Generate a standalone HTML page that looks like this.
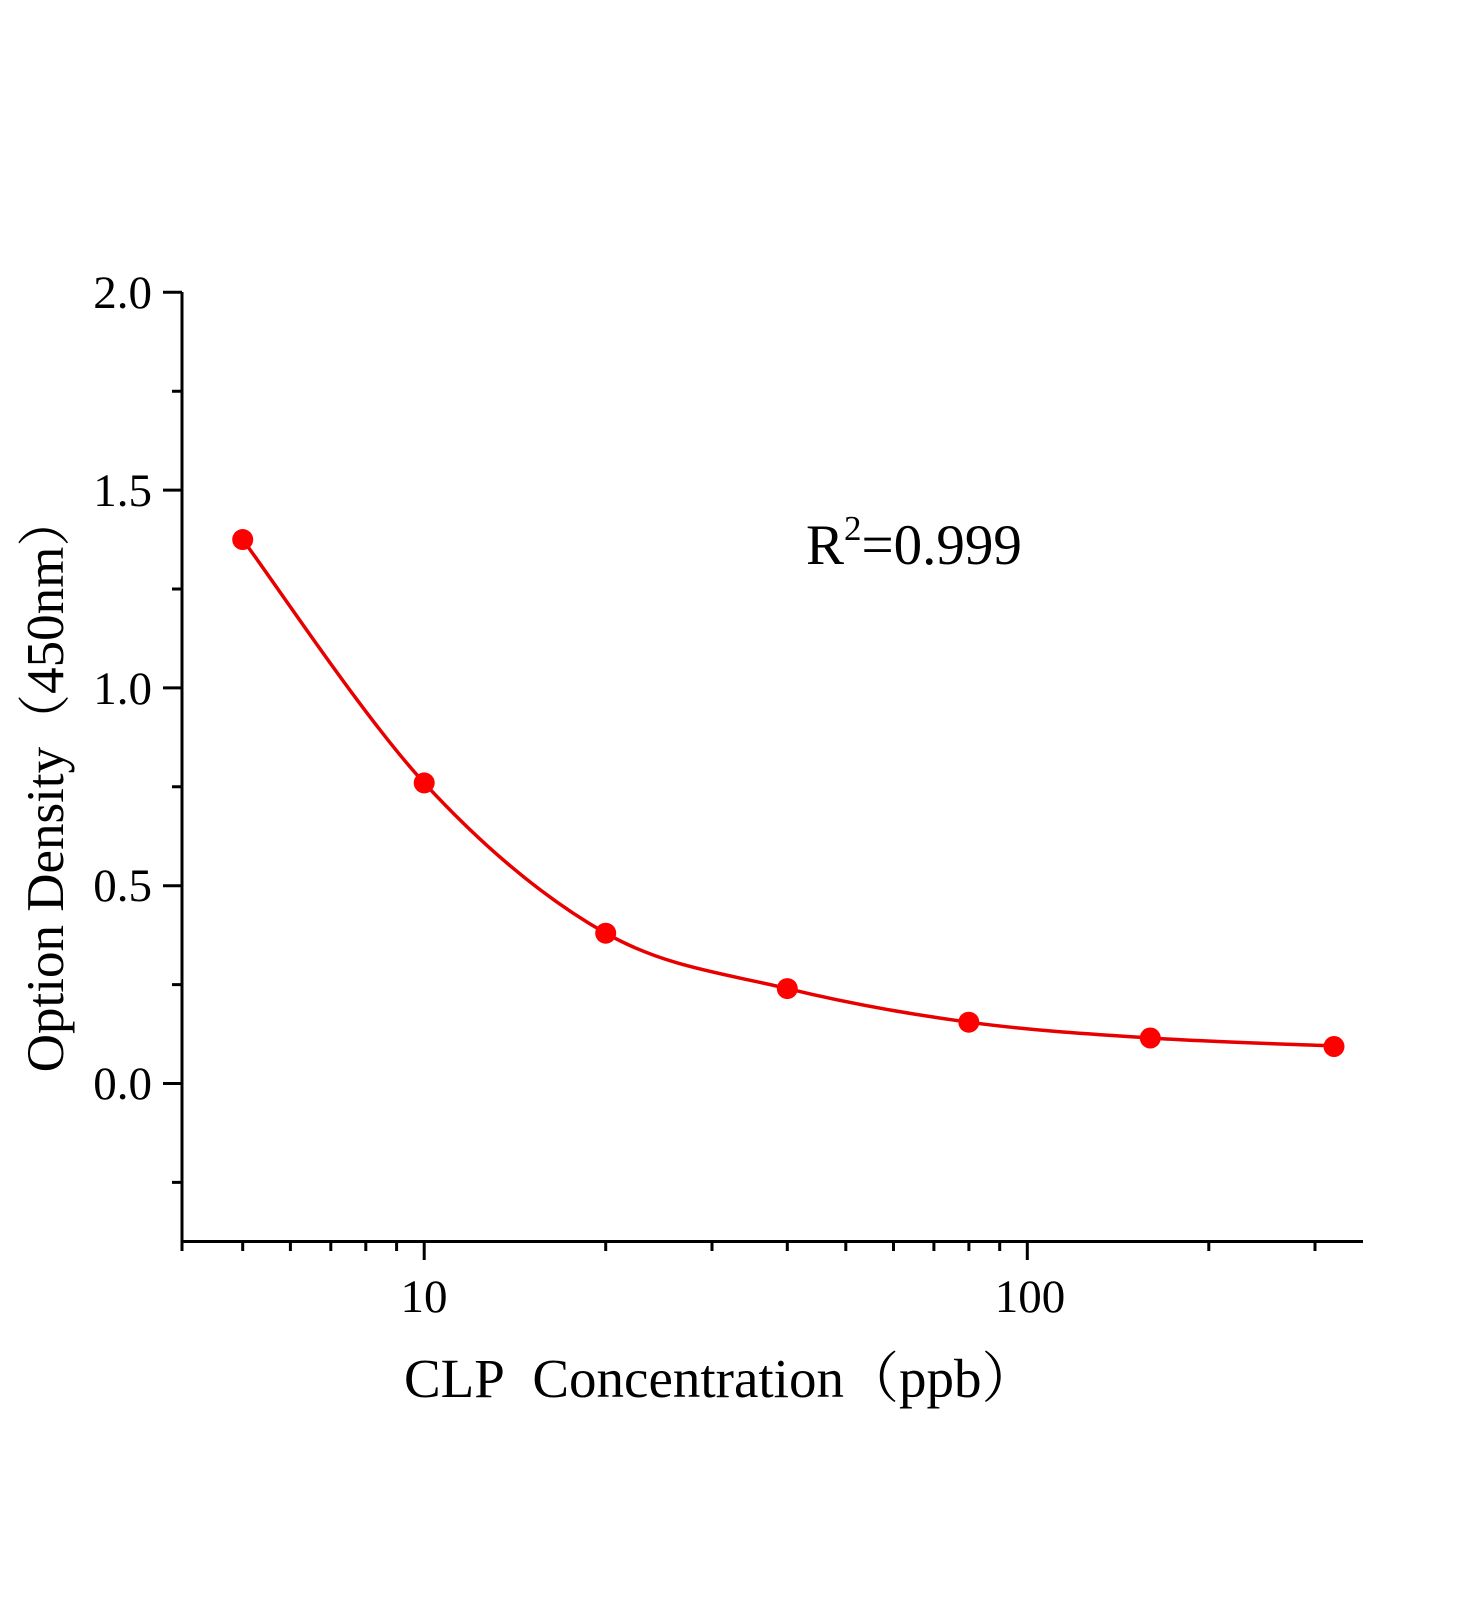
<!DOCTYPE html>
<html><head><meta charset="utf-8"><style>html,body{margin:0;padding:0;background:#fff}</style></head>
<body>
<svg width="1472" height="1600" xmlns="http://www.w3.org/2000/svg" font-family="'Liberation Serif','Noto Serif CJK SC',serif">
<rect width="1472" height="1600" fill="#fff"/>
<g stroke="#000" stroke-width="3" fill="none">
<path d="M182,292 V1241.5 H1363"/>
<path d="M163,292.3 H182 M163,490.1 H182 M163,687.9 H182 M163,885.7 H182 M163,1083.5 H182"/>
<path d="M172,391.2 H182 M172,589 H182 M172,786.8 H182 M172,984.6 H182 M172,1182.4 H182"/>
<path d="M424.2,1241 V1260 M1027.3,1241 V1260"/>
<path d="M182,1241 V1251 M242.7,1241 V1251 M290.4,1241 V1251 M330.8,1241 V1251 M365.8,1241 V1251 M396.6,1241 V1251 M605.7,1241 V1251 M712,1241 V1251 M787.3,1241 V1251 M845.8,1241 V1251 M893.5,1241 V1251 M933.9,1241 V1251 M968.9,1241 V1251 M999.7,1241 V1251 M1208.8,1241 V1251 M1315,1241 V1251"/>
</g>
<g font-size="47" text-anchor="end" fill="#000">
<text x="152" y="308">2.0</text>
<text x="152" y="506">1.5</text>
<text x="152" y="704">1.0</text>
<text x="152" y="901">0.5</text>
<text x="152" y="1099">0.0</text>
</g>
<g font-size="47" text-anchor="middle" fill="#000">
<text x="424" y="1312">10</text>
<text x="1030" y="1312">100</text>
</g>
<text x="404" y="1397" font-size="55">CLP&#160; Concentration（ppb）</text>
<text transform="translate(63,783) rotate(-90)" font-size="53" text-anchor="middle">Option Density（450nm）</text>
<text x="806" y="564" font-size="57">R<tspan font-size="35" dy="-24">2</tspan><tspan dy="24">=0.999</tspan></text>
<path fill="none" stroke="#e80000" stroke-width="3.5" d="M242.7,539.55 C272.95,580.1 363.7,717.3 424.2,782.9 C484.7,848.5 545.2,898.9 605.7,933.2 C666.2,967.5 726.8,973.8 787.3,988.6 C847.8,1003.4 908.3,1014.0 968.8,1022.2 C1029.3,1030.4 1089.8,1034.05 1150.3,1038 C1210.8,1041.95 1301.55,1044.6 1331.8,1045.9"/>
<g fill="#f00">
<circle cx="242.7" cy="539.55" r="10.5"/>
<circle cx="424.2" cy="782.9" r="10.5"/>
<circle cx="605.7" cy="933.2" r="10.5"/>
<circle cx="787.3" cy="988.6" r="10.5"/>
<circle cx="968.8" cy="1022.2" r="10.5"/>
<circle cx="1150.3" cy="1038" r="10.5"/>
<circle cx="1334" cy="1046.5" r="10.5"/>
</g>
</svg>
</body></html>
